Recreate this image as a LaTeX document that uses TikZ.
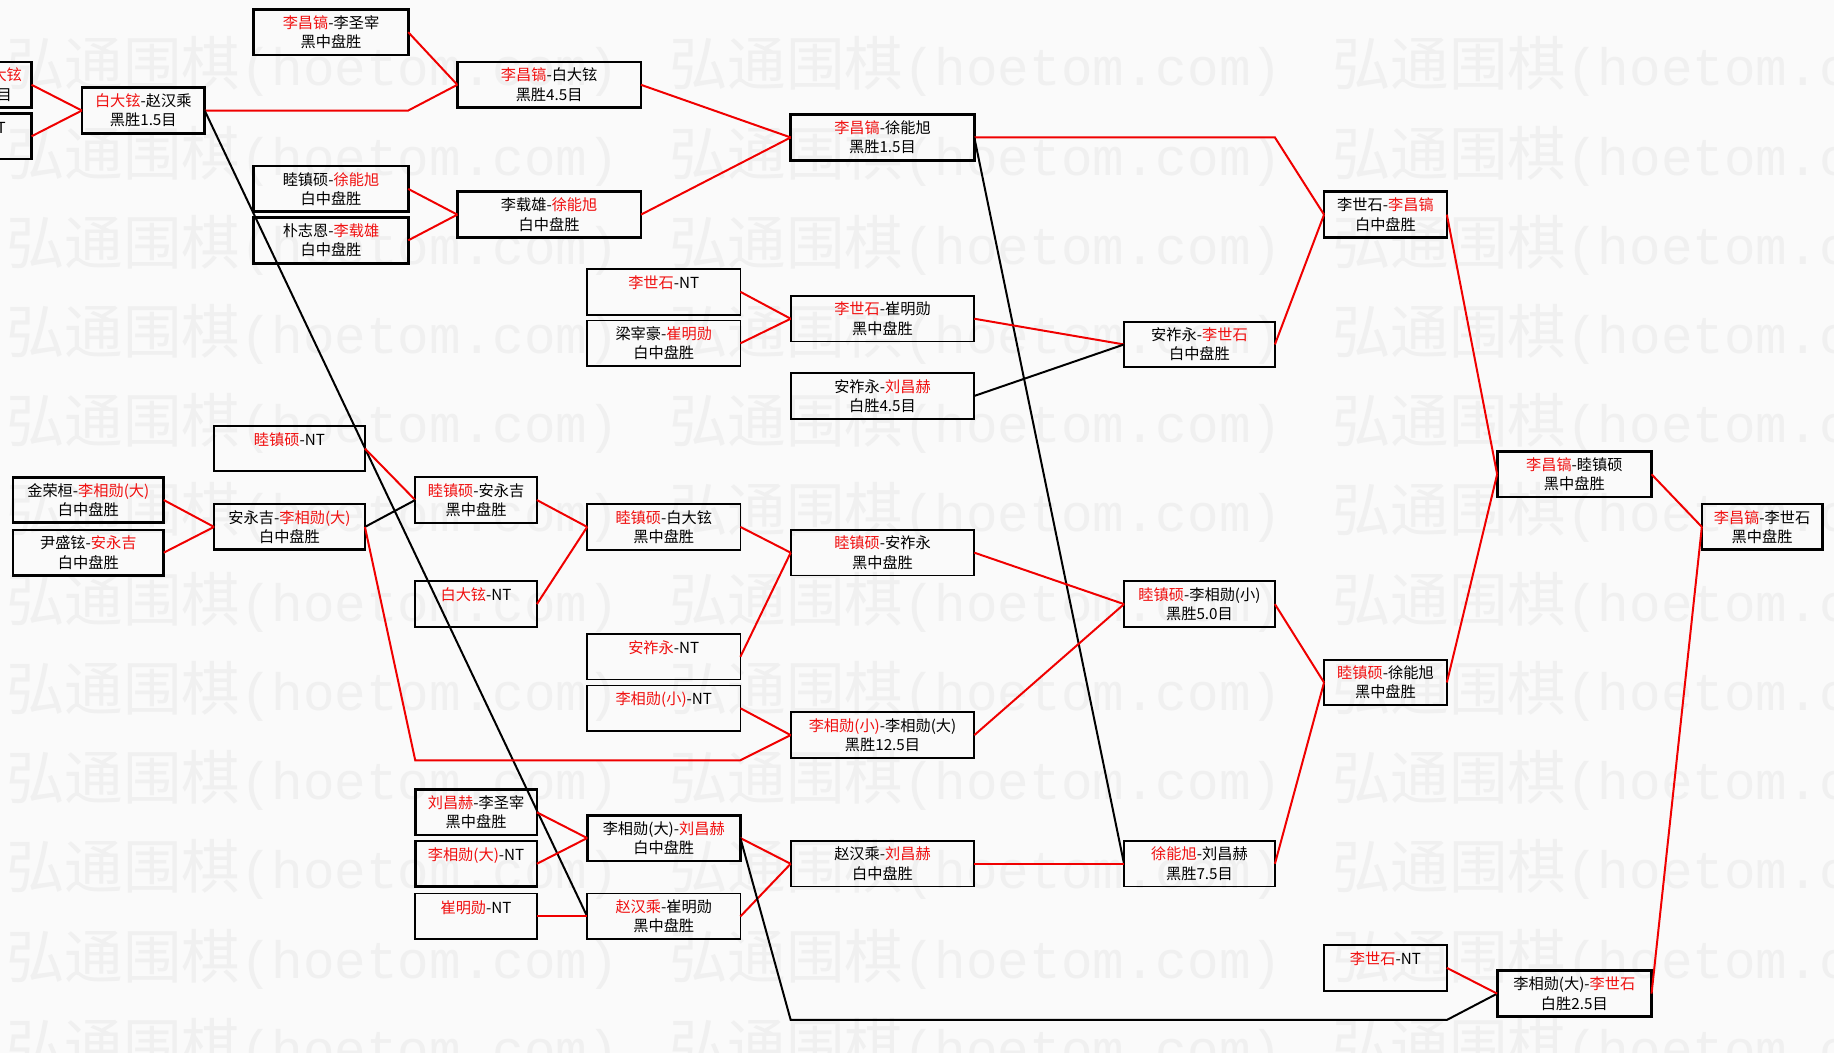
\documentclass[tikz,border=0pt]{standalone}
\usepackage{fontspec}
\usepackage{xcolor}
\usepackage{tikz}
\usetikzlibrary{positioning,calc}
\newfontfamily\cjk{Noto Sans CJK SC}
\newfontfamily\wmono{Liberation Mono}
\definecolor{winred}{HTML}{F01010}
\definecolor{lnred}{HTML}{F00000}
\definecolor{bgpaper}{HTML}{FAFAFA}
\definecolor{wmgray}{HTML}{F0F0F0}
\newcommand{\win}[1]{\textcolor{winred}{#1}}

\begin{document}
\begin{tikzpicture}[x=1pt, y=-1pt, every node/.style={font=\cjk\fontsize{13}{16.5}\selectfont},
  bx/.style={draw, line width=1.5pt, align=center, anchor=north west, inner sep=0pt, outer sep=0pt, minimum width=#1, minimum height=39pt},
  tk/.style={line width=2.3pt},
  rl/.style={draw=lnred, line width=1.7pt},
  bl/.style={draw=black, line width=1.7pt},
  wm/.style={text=wmgray, anchor=west, inner sep=0pt, font=\cjk\fontsize{50}{50}\selectfont}]
  \useasboundingbox (0,0) rectangle (1568,900);
  \fill[bgpaper] (0,0) rectangle (1568,900);
  \foreach \r in {0,...,11}
    \foreach \c in {0,1,2}
      \node[wm] (wm-\r-\c) at (5+567*\c, 57+76.3*\r) {弘通围棋{\wmono\fontsize{45}{45}\selectfont(hoetom.com)}};

  \node[bx=105,tk] (p1) at (-78,53) {\phantom{某某某-}\win{白大铉}\hspace*{-6pt}\\\phantom{黑胜1.5}目\hspace*{-14pt}};
  \node[bx=105,tk] (p2) at (-78,97) {\phantom{某某某}-NT\\~};
  \node[bx=105,tk] (a1) at (70,75) {\win{白大铉}-赵汉乘\\黑胜1.5目};
  \node[bx=132,tk] (b1) at (217,8) {\win{李昌镐}-李圣宰\\黑中盘胜};
  \node[bx=132,tk] (b2) at (217,142) {睦镇硕-\win{徐能旭}\\白中盘胜};
  \node[bx=132,tk] (b3) at (217,186) {朴志恩-\win{李载雄}\\白中盘胜};
  \node[bx=157,tk] (c1) at (391,53) {\win{李昌镐}-白大铉\\黑胜4.5目};
  \node[bx=157,tk] (c2) at (391,164) {李载雄-\win{徐能旭}\\白中盘胜};
  \node[bx=157,tk] (d1) at (676,98) {\win{李昌镐}-徐能旭\\黑胜1.5目};
  \node[bx=105,tk] (e1) at (1132,164) {李世石-\win{李昌镐}\\白中盘胜};
  \node[bx=132,tk] (f1) at (1280,386) {\win{李昌镐}-睦镇硕\\黑中盘胜};
  \node[bx=103,tk] (g1) at (1455,431) {\win{李昌镐}-李世石\\黑中盘胜};

  \node[bx=131] (m1) at (502,230) {\win{李世石}-NT\\~};
  \node[bx=131] (m2) at (502,274) {梁宰豪-\win{崔明勋}\\白中盘胜};
  \node[bx=157] (m3) at (676,253) {\win{李世石}-崔明勋\\黑中盘胜};
  \node[bx=157] (m4) at (676,319) {安祚永-\win{刘昌赫}\\白胜4.5目};
  \node[bx=129] (m5) at (961,275) {安祚永-\win{李世石}\\白中盘胜};

  \node[bx=129] (l1) at (183,364) {\win{睦镇硕}-NT\\~};
  \node[bx=129,tk] (l2) at (11,408) {金荣桓-\win{李相勋(大)}\\白中盘胜};
  \node[bx=129,tk] (l3) at (11,453) {尹盛铉-\win{安永吉}\\白中盘胜};
  \node[bx=129,tk] (l4) at (183,431) {安永吉-\win{李相勋(大)}\\白中盘胜};
  \node[bx=104] (l5) at (355,408) {\win{睦镇硕}-安永吉\\黑中盘胜};
  \node[bx=104] (l6) at (355,497) {\win{白大铉}-NT\\~};
  \node[bx=131] (l7) at (502,431) {\win{睦镇硕}-白大铉\\黑中盘胜};
  \node[bx=131] (l8) at (502,542) {\win{安祚永}-NT\\~};
  \node[bx=131] (l9) at (502,586) {\win{李相勋(小)}-NT\\~};
  \node[bx=157] (l10) at (676,453) {\win{睦镇硕}-安祚永\\黑中盘胜};
  \node[bx=157] (l11) at (676,609) {\win{李相勋(小)}-李相勋(大)\\黑胜12.5目};
  \node[bx=129] (l12) at (961,497) {\win{睦镇硕}-李相勋(小)\\黑胜5.0目};
  \node[bx=105] (l13) at (1132,564) {\win{睦镇硕}-徐能旭\\黑中盘胜};

  \node[bx=104,tk] (s1) at (355,675) {\win{刘昌赫}-李圣宰\\黑中盘胜};
  \node[bx=104,tk] (s2) at (355,719) {\win{李相勋(大)}-NT\\~};
  \node[bx=104] (s3) at (355,764) {\win{崔明勋}-NT\\~};
  \node[bx=131,tk] (s4) at (502,697) {李相勋(大)-\win{刘昌赫}\\白中盘胜};
  \node[bx=131] (s5) at (502,764) {\win{赵汉乘}-崔明勋\\黑中盘胜};
  \node[bx=157] (s6) at (676,719) {赵汉乘-\win{刘昌赫}\\白中盘胜};
  \node[bx=129] (s7) at (961,719) {\win{徐能旭}-刘昌赫\\黑胜7.5目};
  \node[bx=105] (s8) at (1132,808) {\win{李世石}-NT\\~};
  \node[bx=132,tk] (s9) at (1280,830) {李相勋(大)-\win{李世石}\\白胜2.5目};

  \coordinate (k1) at (355,650); \coordinate (k2) at (633,650);
  \coordinate (k3) at (676,872); \coordinate (k4) at (1237,872);

  \draw[rl] (p1.east)--(a1.west); \draw[rl] (p2.east)--(a1.west);
  \draw[rl] (b1.east)--(c1.west); \draw[rl] (a1.east)--(a1.east -| b1.east)--(c1.west);
  \draw[rl] (b2.east)--(c2.west); \draw[rl] (b3.east)--(c2.west);
  \draw[rl] (c1.east)--(d1.west); \draw[rl] (c2.east)--(d1.west);
  \draw[rl] (d1.east)--(d1.east -| m5.east)--(e1.west);
  \draw[bl] (a1.east)--(s5.west); \draw[bl] (d1.east)--(s7.west);
  \draw[rl] (m1.east)--(m3.west); \draw[rl] (m2.east)--(m3.west);
  \draw[rl] (m3.east)--(m5.west); \draw[bl] (m4.east)--(m5.west);
  \draw[rl] (m5.east)--(e1.west); \draw[rl] (e1.east)--(f1.west); \draw[rl] (f1.east)--(g1.west);
  \draw[rl] (l2.east)--(l4.west); \draw[rl] (l3.east)--(l4.west);
  \draw[rl] (l1.east)--(l5.west); \draw[bl] (l4.east)--(l5.west);
  \draw[rl] (l4.east)--(k1)--(k2)--(l11.west);
  \draw[rl] (l5.east)--(l7.west); \draw[rl] (l6.east)--(l7.west);
  \draw[rl] (l7.east)--(l10.west); \draw[rl] (l8.east)--(l10.west);
  \draw[rl] (l9.east)--(l11.west);
  \draw[rl] (l10.east)--(l12.west); \draw[rl] (l11.east)--(l12.west);
  \draw[rl] (l12.east)--(l13.west); \draw[rl] (l13.east)--(f1.west);
  \draw[rl] (s1.east)--(s4.west); \draw[rl] (s2.east)--(s4.west); \draw[rl] (s3.east)--(s5.west);
  \draw[rl] (s4.east)--(s6.west); \draw[rl] (s5.east)--(s6.west);
  \draw[rl] (s6.east)--(s7.west); \draw[rl] (s7.east)--(l13.west);
  \draw[bl] (s4.east)--(k3)--(k4)--(s9.west);
  \draw[rl] (s8.east)--(s9.west); \draw[rl] (s9.east)--(g1.west);
\end{tikzpicture}
\end{document}
